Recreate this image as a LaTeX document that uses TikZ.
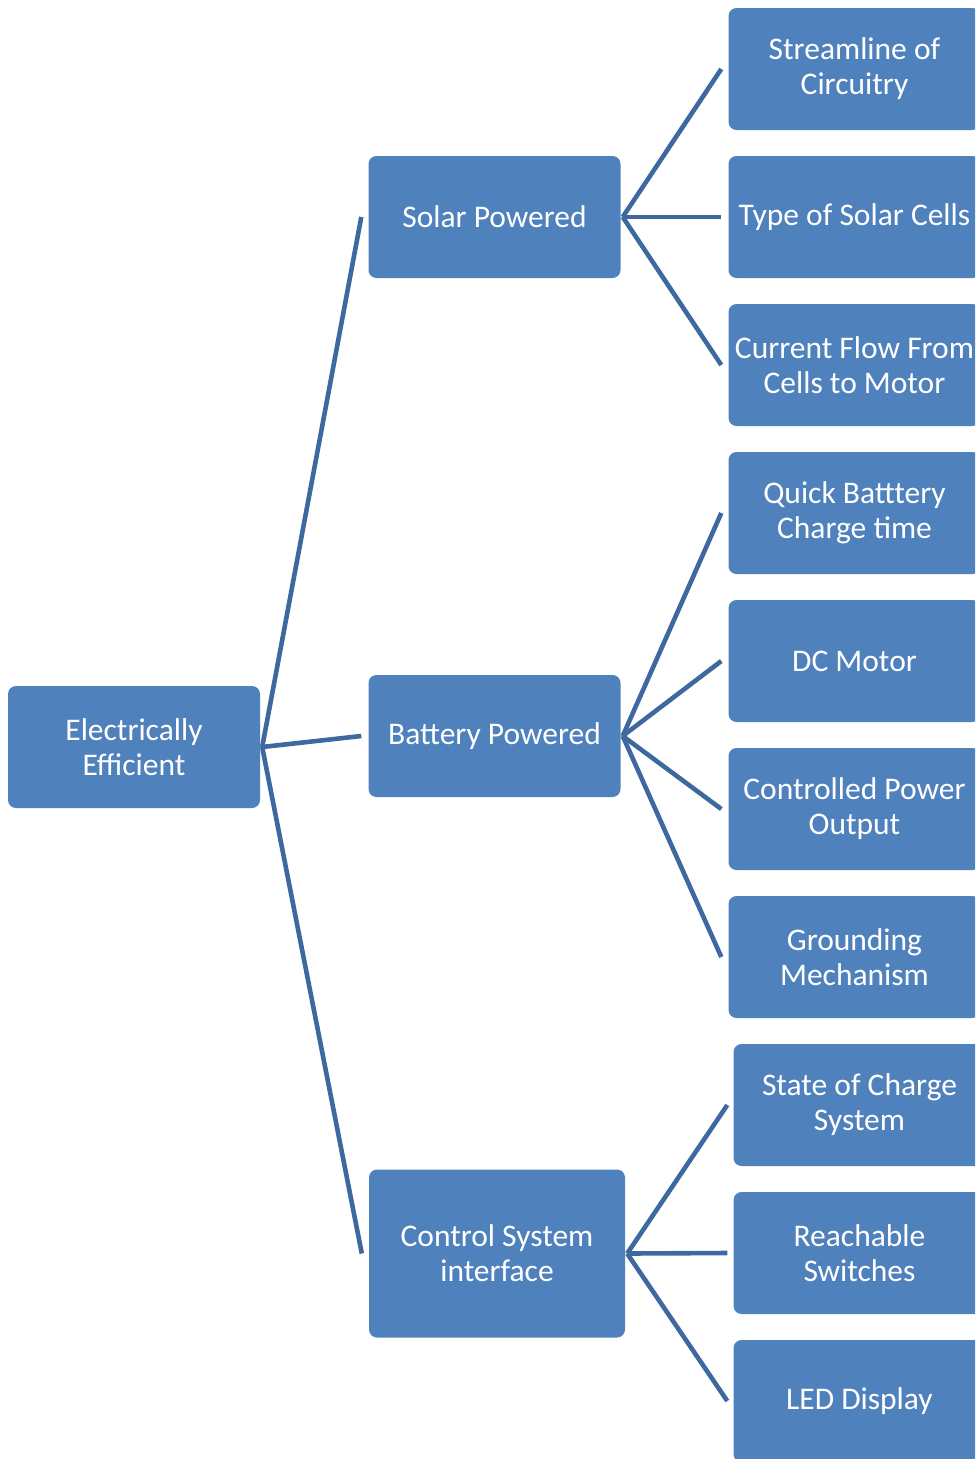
\documentclass[tikz,border=0pt]{standalone}
\usepackage{fontspec}
\setmainfont{Carlito}
\usepackage{tikz}
\definecolor{boxblue}{RGB}{79,129,189}
\definecolor{linkblue}{RGB}{62,104,160}

\begin{document}
\begin{tikzpicture}[x=1pt,y=-1pt,
  item/.style={rectangle, rounded corners=8pt, fill=boxblue, text=white, inner sep=0pt,
    minimum width=252pt, minimum height=122pt, align=center,
    font=\fontsize{31.5}{35}\selectfont},
  link/.style={linkblue, line width=4.6pt}]

\clip (0,0) rectangle (975,1459);

% root and middle column
\node [item] (ee) at (134,747) {Electrically\\Efficient};
\node [item] (sp) at (494.5,217) {Solar Powered};
\node [item] (bp) at (494.5,736) {Battery Powered};
\node [item, minimum width=256pt, minimum height=168pt] (cs) at (497,1253.5) {Control System\\interface};

% right column
\node [item] (sc) at (854.5,69) {Streamline of\\Circuitry};
\node [item] (ts) at (854.5,217) {Type of Solar Cells};
\node [item] (cf) at (854.5,365) {Current Flow From\\Cells to Motor};

\node [item] (qb) at (854.5,513) {Quick Batttery\\Charge time};
\node [item] (dc) at (854.5,661) {DC Motor};
\node [item] (po) at (854.5,809) {Controlled Power\\Output};
\node [item] (gm) at (854.5,957) {Grounding\\Mechanism};

\node [item] (soc) at (859.5,1105) {State of Charge\\System};
\node [item] (rs) at (859.5,1253) {Reachable\\Switches};
\node [item] (led) at (859.5,1401) {LED Display};

% connectors
\foreach \b in {sp,bp,cs}
  \draw [link] ([xshift=2pt]ee.east) -- ([xshift=-7pt]\b.west);

\foreach \b in {sc,ts,cf}
  \draw [link] ([xshift=2pt]sp.east) -- ([xshift=-7pt]\b.west);

\foreach \b in {qb,dc,po,gm}
  \draw [link] ([xshift=2pt]bp.east) -- ([xshift=-7pt]\b.west);

\foreach \b in {soc,rs,led}
  \draw [link] ([xshift=2pt]cs.east) -- ([xshift=-6pt]\b.west);

\end{tikzpicture}
\end{document}
